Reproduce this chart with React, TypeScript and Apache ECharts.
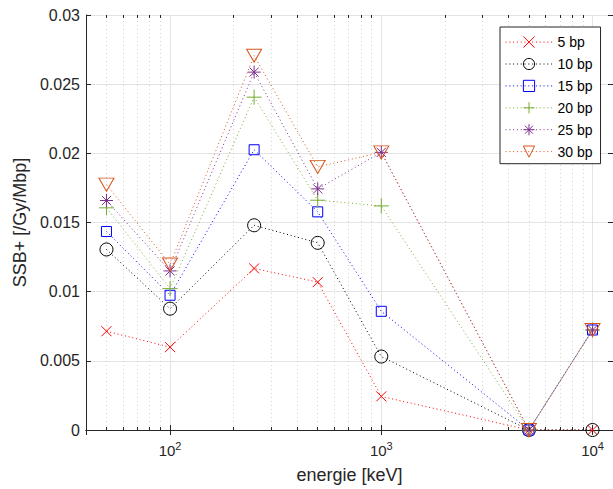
import React, { useEffect, useRef } from "react";
import * as echarts from "echarts";

// Photon energy (keV) and single-strand-break yield per fragment length
const energies = [50, 100, 250, 500, 1000, 5000, 10000];
const bp5 = [0.00714, 0.00599, 0.01168, 0.01069, 0.00243, 0, 0];
const bp10 = [0.01305, 0.00877, 0.0148, 0.01353, 0.00531, 0, 0];
const bp15 = [0.01435, 0.00974, 0.02026, 0.01577, 0.00858, 0, 0.00723];
const bp20 = [0.01606, 0.01022, 0.02406, 0.01661, 0.0162, 0, 0.00723];
const bp25 = [0.01659, 0.0115, 0.02587, 0.01743, 0.02007, 0, 0.00723];
const bp30 = [0.01774, 0.01197, 0.02706, 0.01902, 0.02007, 0, 0.00723];

const seriesNames = ["5 bp", "10 bp", "15 bp", "20 bp", "25 bp", "30 bp"];
const yTicks = [0, 0.005, 0.01, 0.015, 0.02, 0.025, 0.03];
const minorX = [50, 60, 70, 80, 90, 200, 300, 400, 500, 600, 700, 800, 900, 2000, 3000, 4000, 5000, 6000, 7000, 8000, 9000];

const X_MIN = 40;
const X_MAX = 12500;
const Y_MIN = yTicks[0];
const Y_MAX = yTicks[yTicks.length - 1];
const MINOR_TICK = 0.000216;

const FONT = "'Liberation Sans', Arial, Helvetica, sans-serif";
const AXIS_COLOR = "#262626";

const SYM_CROSS = "path://M0,0L10,10M10,0L0,10";
const SYM_PLUS = "path://M5,0L5,10M0,5L10,5";
const SYM_STAR = "path://M5,0L5,10M0,5L10,5M1.46,1.46L8.54,8.54M8.54,1.46L1.46,8.54";
const SYM_TRI = "path://M0,0L10,0L5,8.66Z";

type Style = { color: string; symbol: string; size: number | number[] };
const styles: Style[] = [
  { color: "#ff0000", symbol: SYM_CROSS, size: 10 },
  { color: "#000000", symbol: "circle", size: 13 },
  { color: "#0000ff", symbol: "rect", size: 10 },
  { color: "#77ac30", symbol: SYM_PLUS, size: 15 },
  { color: "#7e2f8e", symbol: SYM_STAR, size: 13 },
  { color: "#d95319", symbol: SYM_TRI, size: [15, 13] },
];
const values = [bp5, bp10, bp15, bp20, bp25, bp30];

function buildOption() {
  const dataSeries = values.map((vals, i) => {
    const s = styles[i];
    return {
      name: seriesNames[i],
      type: "line",
      data: energies.map((e, j) => [e, vals[j]]),
      color: s.color,
      symbol: s.symbol,
      symbolSize: s.size,
      showAllSymbol: true,
      lineStyle: { color: s.color, width: 1, type: [1, 2.8] },
      itemStyle: { color: "none", borderColor: s.color, borderWidth: 1 },
      emphasis: { disabled: true },
      z: 3,
    };
  });

  // Minor log grid lines and minor ticks on bottom and top edges
  const minorGrid = {
    name: "minor",
    type: "line",
    data: [],
    silent: true,
    markLine: {
      silent: true,
      symbol: "none",
      z: 1,
      animation: false,
      label: { show: false },
      emphasis: { disabled: true },
      lineStyle: { color: "#d2d2d2", width: 1, type: [1, 3] },
      data: minorX.map((v) => [
        { coord: [v, Y_MIN] },
        { coord: [v, Y_MAX] },
      ]),
    },
  };
  const minorTicks = {
    name: "minorTicks",
    type: "line",
    data: [],
    silent: true,
    markLine: {
      silent: true,
      symbol: "none",
      z: 4,
      animation: false,
      label: { show: false },
      emphasis: { disabled: true },
      lineStyle: { color: AXIS_COLOR, width: 1, type: "solid" },
      data: [
        ...minorX.map((v) => [{ coord: [v, Y_MIN] }, { coord: [v, Y_MIN + MINOR_TICK] }]),
        ...minorX.map((v) => [{ coord: [v, Y_MAX] }, { coord: [v, Y_MAX - MINOR_TICK] }]),
      ],
    },
  };

  const xBase = {
    type: "log",
    logBase: 10,
    min: X_MIN,
    max: X_MAX,
    axisLine: { show: true, lineStyle: { color: AXIS_COLOR, width: 1 } },
    axisTick: { show: true, inside: true, length: 5, lineStyle: { color: AXIS_COLOR } },
  };
  const yBase = {
    type: "value",
    min: Y_MIN,
    max: Y_MAX,
    interval: 0.005,
    axisLine: { show: true, lineStyle: { color: AXIS_COLOR, width: 1 } },
    axisTick: { show: true, inside: true, length: 5, lineStyle: { color: AXIS_COLOR } },
  };

  return {
    animation: false,
    backgroundColor: "#ffffff",
    textStyle: { fontFamily: FONT },
    grid: { left: 86, right: 0, top: 15, bottom: 58, containLabel: false },
    legend: {
      data: seriesNames,
      orient: "vertical",
      left: 500,
      top: 27,
      padding: [7, 8, 4, 5],
      itemWidth: 47,
      itemHeight: 14,
      itemGap: 5.7,
      backgroundColor: "#ffffff",
      borderColor: AXIS_COLOR,
      borderWidth: 1,
      borderRadius: 0,
      selectedMode: false,
      itemStyle: { borderWidth: 1 },
      lineStyle: { width: 1 },
      textStyle: { fontSize: 14, color: "#000000", fontFamily: FONT },
    },
    xAxis: [
      {
        ...xBase,
        position: "bottom",
        name: "energie [keV]",
        nameLocation: "middle",
        nameGap: 36,
        nameTextStyle: { fontSize: 18, color: AXIS_COLOR, fontFamily: FONT },
        axisLabel: {
          show: true,
          margin: 10,
          showMinLabel: false,
          showMaxLabel: false,
          formatter: (v: number) => `{b|10}{s|${Math.round(Math.log10(v))}}`,
          rich: {
            b: { fontSize: 15, color: AXIS_COLOR, fontFamily: FONT, verticalAlign: "bottom" },
            s: { fontSize: 11, color: AXIS_COLOR, fontFamily: FONT, verticalAlign: "bottom", padding: [0, 0, 7, 0] },
          },
        },
        splitLine: { show: true, lineStyle: { color: "#e3e3e3", width: 1, type: "solid" } },
      },
      {
        ...xBase,
        position: "top",
        axisLabel: { show: false },
        splitLine: { show: false },
      },
    ],
    yAxis: [
      {
        ...yBase,
        position: "left",
        name: "SSB+ [/Gy/Mbp]",
        nameLocation: "middle",
        nameGap: 54,
        nameTextStyle: { fontSize: 18, color: AXIS_COLOR, fontFamily: FONT },
        axisLabel: { show: true, margin: 6, fontSize: 16, color: AXIS_COLOR, fontFamily: FONT },
        splitLine: { show: true, lineStyle: { color: "#e3e3e3", width: 1, type: "solid" } },
      },
      {
        ...yBase,
        position: "right",
        axisLabel: { show: false },
        splitLine: { show: false },
      },
    ],
    series: [minorGrid, ...dataSeries, minorTicks],
  };
}

export default function App() {
  const ref = useRef<HTMLDivElement>(null);
  useEffect(() => {
    if (!ref.current) return;
    const chart = echarts.init(ref.current, undefined, { renderer: "svg" });
    chart.setOption(buildOption() as any);
    return () => chart.dispose();
  }, []);
  return (
    <div
      ref={ref}
      style={{ position: "fixed", left: 0, top: 0, width: 613, height: 489, background: "#ffffff" }}
    />
  );
}
